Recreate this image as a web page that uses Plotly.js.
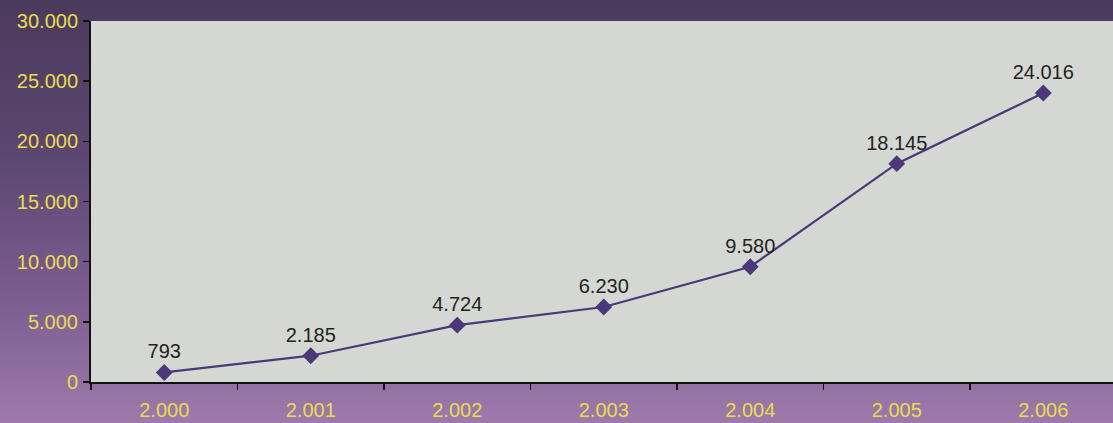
<!DOCTYPE html>
<html>
<head>
<meta charset="utf-8">
<script src="https://cdn.plot.ly/plotly-3.0.1.min.js"></script>
<style>
html,body{margin:0;padding:0;}
body{width:1113px;height:423px;background:linear-gradient(to bottom,#4a3a5c 0%,#5a4670 35%,#7c5d90 70%,#9d7aab 100%);}
#chart{width:1113px;height:423px;}
</style>
</head>
<body>
<div id="chart"></div>
<script>
var categories = ["2.000","2.001","2.002","2.003","2.004","2.005","2.006"];
var values = [793, 2185, 4724, 6230, 9580, 18145, 24016];

var trace = {
  x: categories,
  y: values,
  type: "scatter",
  mode: "lines+markers+text",
  line: {color: "#4a3878", width: 2.2},
  marker: {symbol: "diamond", size: 13, color: "#4a3878"},
  texttemplate: "%{y:,}",
  textposition: "top center",
  textfont: {family: "Liberation Sans, Arial, sans-serif", size: 20, color: "#222222"},
  hoverinfo: "skip",
  cliponaxis: false
};

var layout = {
  width: 1113,
  height: 423,
  margin: {l: 91, r: 0, t: 21, b: 41},
  paper_bgcolor: "rgba(0,0,0,0)",
  plot_bgcolor: "#d5d8d2",
  separators: ",.",
  showlegend: false,
  xaxis: {
    type: "category",
    range: [-0.5, 6.476],
    tickson: "boundaries",
    ticks: "outside",
    ticklen: 6,
    tickwidth: 1.5,
    tickcolor: "#111111",
    showline: true,
    linecolor: "#111111",
    linewidth: 2,
    showgrid: false,
    zeroline: false,
    ticklabelstandoff: 9,
    tickfont: {family: "Liberation Sans, Arial, sans-serif", size: 20, color: "#e9dc50"}
  },
  yaxis: {
    range: [0, 30000],
    dtick: 5000,
    tickformat: ",",
    ticks: "outside",
    ticklen: 6,
    tickwidth: 1.5,
    tickcolor: "#111111",
    showline: true,
    linecolor: "#111111",
    linewidth: 2,
    showgrid: false,
    zeroline: false,
    ticklabelstandoff: 1,
    tickfont: {family: "Liberation Sans, Arial, sans-serif", size: 20, color: "#e9dc50"}
  }
};

Plotly.newPlot("chart", [trace], layout, {displayModeBar: false, staticPlot: true});
</script>
</body>
</html>
